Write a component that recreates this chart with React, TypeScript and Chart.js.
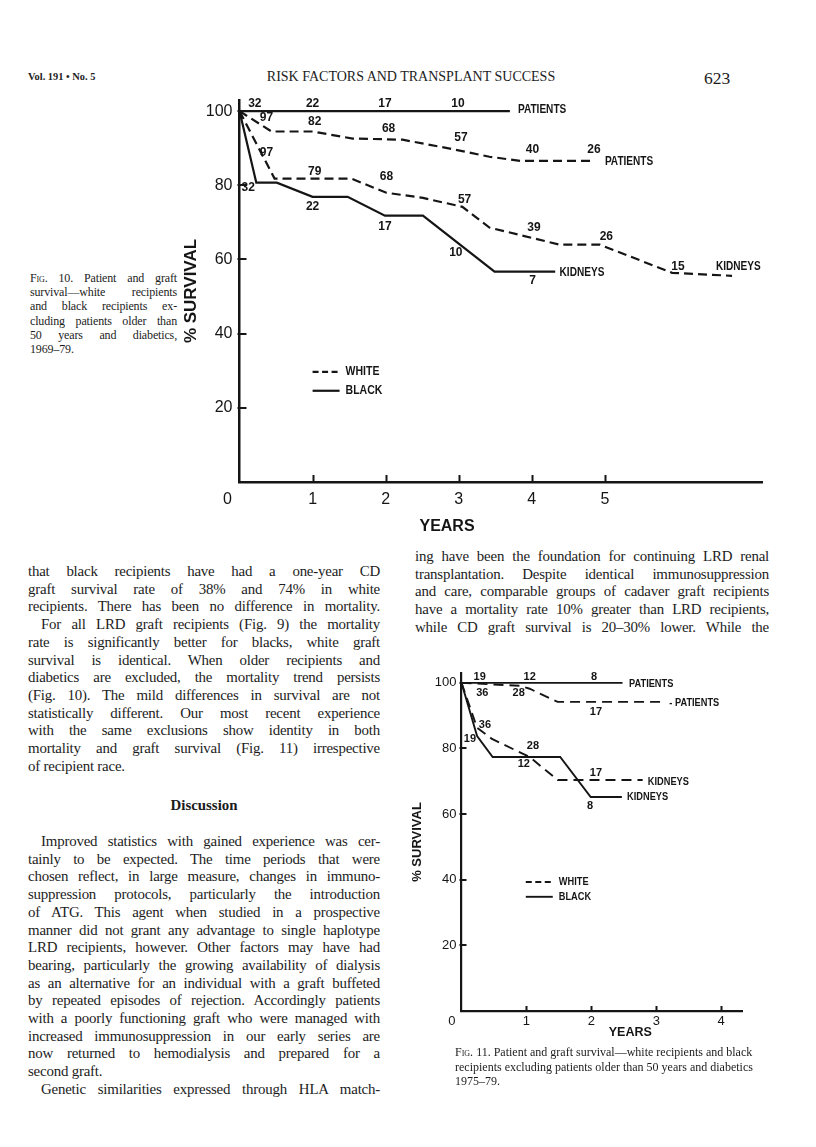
import React, { useEffect, useRef } from "react";
import { Chart, registerables } from "chart.js";

Chart.register(...registerables);

type Pt = [number, number];

const INK = "#151515";
const SANS = "'Liberation Sans', Arial, sans-serif";
const SERIF = "'Liberation Serif', 'Times New Roman', serif";

// ---------------- Fig. 10 (1969–79) ----------------
const fig10XTicks = [0, 1, 2, 3, 4, 5];
const fig10YTicks = [20, 40, 60, 80, 100];
const fig10BlackPatients: Pt[] = [[0, 100], [3.7, 100]];
const fig10WhitePatients: Pt[] = [[0, 100], [0.44, 94.5], [1.0, 94.5], [1.55, 92.6], [2.23, 92.3], [2.88, 89.9], [3.42, 87.7], [3.84, 86.6], [4.86, 86.6]];
const fig10WhiteKidneys: Pt[] = [[0, 100], [0.48, 81.8], [1.53, 81.8], [2.01, 78], [2.51, 76.6], [3.05, 74.2], [3.42, 68.6], [4.38, 64], [4.93, 64], [5.92, 56.4], [6.74, 55.6]];
const fig10BlackKidneys: Pt[] = [[0, 100], [0.23, 80.7], [0.51, 80.7], [1.0, 76.9], [1.48, 76.9], [1.99, 71.8], [2.51, 71.8], [3.49, 56.7], [4.32, 56.7]];

const fig10BlackPatientCounts = [32, 22, 17, 10];
const fig10BlackPatientCountAt: Pt[] = [[0.21, 102], [1.0, 102], [1.99, 102], [2.99, 102]];
const fig10WhitePatientCounts = [97, 82, 68, 57, 40, 26];
const fig10WhitePatientCountAt: Pt[] = [[0.37, 98.2], [1.03, 97.2], [2.04, 95.3], [3.03, 92.8], [4.01, 89.6], [4.85, 89.6]];
const fig10WhiteKidneyCounts = [97, 79, 68, 57, 39, 26, 15];
const fig10WhiteKidneyCountAt: Pt[] = [[0.37, 88.8], [1.03, 83.7], [2.01, 82.3], [3.08, 76.1], [4.03, 68.6], [5.02, 66.1], [6.0, 58]];
const fig10BlackKidneyCounts = [32, 22, 17, 10, 7];
const fig10BlackKidneyCountAt: Pt[] = [[0.12, 79.4], [1.0, 74.2], [1.99, 68.8], [2.96, 61.8], [4.01, 54.3]];

const fig10EndLabels: { text: string; at: Pt }[] = [
  { text: "PATIENTS", at: [3.81, 100.4] },
  { text: "PATIENTS", at: [5.0, 86.4] },
  { text: "KIDNEYS", at: [6.52, 58.0] },
  { text: "KIDNEYS", at: [4.38, 56.4] },
];

// ---------------- Fig. 11 (1975–79) ----------------
const fig11XTicks = [0, 1, 2, 3, 4];
const fig11YTicks = [20, 40, 60, 80, 100];
const fig11BlackPatients: Pt[] = [[0, 100], [2.48, 100]];
const fig11WhitePatients: Pt[] = [[0, 100], [0.9, 99.1], [1.05, 98.2], [1.48, 94.2], [3.13, 94.2]];
const fig11WhiteKidneys: Pt[] = [[0, 100], [0.24, 86.3], [0.47, 82.9], [1.05, 77.4], [1.48, 70.4], [2.79, 70.4]];
const fig11BlackKidneys: Pt[] = [[0, 100], [0.24, 83.8], [0.48, 77.4], [1.52, 77.4], [1.99, 65.2], [2.47, 65.2]];

const fig11BlackPatientCounts = [19, 12, 8];
const fig11BlackPatientCountAt: Pt[] = [[0.28, 101.8], [1.05, 101.8], [2.04, 101.8]];
const fig11WhitePatientCounts = [36, 28, 17];
const fig11WhitePatientCountAt: Pt[] = [[0.32, 97.0], [0.88, 97.0], [2.07, 91.2]];
const fig11WhiteKidneyCounts = [36, 28, 17];
const fig11WhiteKidneyCountAt: Pt[] = [[0.36, 87.2], [1.1, 80.8], [2.07, 72.6]];
const fig11BlackKidneyCounts = [19, 12, 8];
const fig11BlackKidneyCountAt: Pt[] = [[0.13, 82.9], [0.96, 75.3], [1.98, 62.5]];

const fig11EndLabels: { text: string; at: Pt }[] = [
  { text: "PATIENTS", at: [2.58, 99.7] },
  { text: "- PATIENTS", at: [3.2, 93.9] },
  { text: "KIDNEYS", at: [2.87, 69.8] },
  { text: "KIDNEYS", at: [2.55, 65.2] },
];

interface Spec {
  xMax: number;
  yMax: number;
  xTicks: number[];
  yTicks: number[];
  series: { data: Pt[]; dashed: boolean; label: string }[];
  counts: { values: number[]; at: Pt[] }[];
  endLabels: { text: string; at: Pt }[];
  legend: { text: string; dashed: boolean; at: Pt }[];
  xTitleAt: number;
  xTitleDy: number;
  padding: { left: number; top: number; right: number; bottom: number };
  yAxisWidth: number;
  xAxisHeight: number;
  tickSize: number;
  yTitleSize: number;
  yTitlePad: number;
  xTitleSize: number;
  countSize: number;
  labelSize: number;
  legendSize: number;
  lineWidth: number;
  axisWidth: number;
  dash: number[];
  tickLen: number;
  yTickPad: number;
  xTickPad: number;
  legendLen: number;
}

const fig10Spec: Spec = {
  xMax: 7.15,
  yMax: 103,
  xTicks: fig10XTicks,
  yTicks: fig10YTicks,
  series: [
    { data: fig10BlackPatients, dashed: false, label: "Black patients" },
    { data: fig10WhitePatients, dashed: true, label: "White patients" },
    { data: fig10WhiteKidneys, dashed: true, label: "White kidneys" },
    { data: fig10BlackKidneys, dashed: false, label: "Black kidneys" },
  ],
  counts: [
    { values: fig10BlackPatientCounts, at: fig10BlackPatientCountAt },
    { values: fig10WhitePatientCounts, at: fig10WhitePatientCountAt },
    { values: fig10WhiteKidneyCounts, at: fig10WhiteKidneyCountAt },
    { values: fig10BlackKidneyCounts, at: fig10BlackKidneyCountAt },
  ],
  endLabels: fig10EndLabels,
  legend: [
    { text: "WHITE", dashed: true, at: [1.0, 29.7] },
    { text: "BLACK", dashed: false, at: [1.0, 24.6] },
  ],
  xTitleAt: 2.84,
  xTitleDy: 45,
  padding: { left: 0, top: 12, right: 18, bottom: 6 },
  yAxisWidth: 59.5,
  xAxisHeight: 60,
  tickSize: 16,
  yTitleSize: 17,
  yTitlePad: 1,
  xTitleSize: 16,
  countSize: 12,
  labelSize: 12,
  legendSize: 12.5,
  lineWidth: 2.2,
  axisWidth: 2.5,
  dash: [9, 5],
  tickLen: 7,
  yTickPad: 7,
  xTickPad: 8,
  legendLen: 27,
};

const fig11Spec: Spec = {
  xMax: 4.32,
  yMax: 103,
  xTicks: fig11XTicks,
  yTicks: fig11YTicks,
  series: [
    { data: fig11BlackPatients, dashed: false, label: "Black patients" },
    { data: fig11WhitePatients, dashed: true, label: "White patients" },
    { data: fig11WhiteKidneys, dashed: true, label: "White kidneys" },
    { data: fig11BlackKidneys, dashed: false, label: "Black kidneys" },
  ],
  counts: [
    { values: fig11BlackPatientCounts, at: fig11BlackPatientCountAt },
    { values: fig11WhitePatientCounts, at: fig11WhitePatientCountAt },
    { values: fig11WhiteKidneyCounts, at: fig11WhiteKidneyCountAt },
    { values: fig11BlackKidneyCounts, at: fig11BlackKidneyCountAt },
  ],
  endLabels: fig11EndLabels,
  legend: [
    { text: "WHITE", dashed: true, at: [0.99, 39.3] },
    { text: "BLACK", dashed: false, at: [0.99, 34.8] },
  ],
  xTitleAt: 2.6,
  xTitleDy: 22,
  padding: { left: 10, top: 13, right: 18, bottom: 4 },
  yAxisWidth: 51.5,
  xAxisHeight: 36,
  tickSize: 13,
  yTitleSize: 13,
  yTitlePad: 0,
  xTitleSize: 12.5,
  countSize: 11,
  labelSize: 11,
  legendSize: 11,
  lineWidth: 1.9,
  axisWidth: 2.2,
  dash: [10, 6],
  tickLen: 5,
  yTickPad: 5,
  xTickPad: 3,
  legendLen: 27,
};

const NARROW_SCALE = 0.84;

function narrowText(ctx: CanvasRenderingContext2D, text: string, x: number, y: number) {
  ctx.save();
  ctx.translate(x, y);
  ctx.scale(NARROW_SCALE, 1);
  ctx.fillText(text, 0, 0);
  ctx.restore();
}

function decorPlugin(spec: Spec) {
  return {
    id: "decor",
    afterDraw(chart: any) {
      const { ctx, chartArea } = chart;
      const xs = chart.scales.x;
      const ys = chart.scales.y;
      ctx.save();
      ctx.strokeStyle = INK;
      ctx.fillStyle = INK;
      // inward tick marks
      ctx.lineWidth = 2;
      ctx.setLineDash([]);
      ctx.beginPath();
      for (const v of spec.xTicks) {
        if (v === 0) continue;
        const px = Math.round(xs.getPixelForValue(v)) + 0.5;
        ctx.moveTo(px, chartArea.bottom);
        ctx.lineTo(px, chartArea.bottom - spec.tickLen);
      }
      for (const v of spec.yTicks) {
        const py = Math.round(ys.getPixelForValue(v));
        ctx.moveTo(chartArea.left - 2, py);
        ctx.lineTo(chartArea.left + spec.tickLen, py);
      }
      ctx.stroke();

      // at-risk counts
      ctx.textAlign = "center";
      ctx.textBaseline = "middle";
      ctx.font = `bold ${spec.countSize}px ${SANS}`;
      for (const group of spec.counts) {
        group.values.forEach((val, i) => {
          const [tx, ty] = group.at[i];
          ctx.fillText(String(val), xs.getPixelForValue(tx), ys.getPixelForValue(ty));
        });
      }

      // curve labels
      ctx.textAlign = "left";
      ctx.font = `bold ${spec.labelSize}px ${SANS}`;
      for (const lab of spec.endLabels) {
        narrowText(ctx, lab.text, xs.getPixelForValue(lab.at[0]), ys.getPixelForValue(lab.at[1]));
      }

      // legend
      ctx.font = `bold ${spec.legendSize}px ${SANS}`;
      for (const item of spec.legend) {
        const px = xs.getPixelForValue(item.at[0]);
        const py = ys.getPixelForValue(item.at[1]);
        ctx.lineWidth = spec.lineWidth;
        ctx.setLineDash(item.dashed ? [6, 3.5] : []);
        ctx.beginPath();
        ctx.moveTo(px, py);
        ctx.lineTo(px + spec.legendLen, py);
        ctx.stroke();
        ctx.setLineDash([]);
        narrowText(ctx, item.text, px + spec.legendLen + 6, py);
      }

      // x-axis title
      ctx.textAlign = "center";
      ctx.font = `bold ${spec.xTitleSize}px ${SANS}`;
      ctx.fillText("YEARS", xs.getPixelForValue(spec.xTitleAt), chartArea.bottom + spec.xTitleDy);
      ctx.restore();
    },
  };
}

function buildConfig(spec: Spec): any {
  return {
    type: "line",
    data: {
      datasets: spec.series.map((s) => ({
        label: s.label,
        data: s.data.map(([x, y]) => ({ x, y })),
        borderColor: INK,
        backgroundColor: INK,
        borderWidth: spec.lineWidth,
        borderDash: s.dashed ? spec.dash : [],
        pointRadius: 0,
        fill: false,
        tension: 0,
      })),
    },
    options: {
      animation: false,
      responsive: false,
      maintainAspectRatio: false,
      devicePixelRatio: 1,
      layout: { padding: spec.padding },
      plugins: { legend: { display: false }, tooltip: { enabled: false }, title: { display: false } },
      scales: {
        x: {
          type: "linear",
          min: 0,
          max: spec.xMax,
          afterBuildTicks: (s: any) => {
            s.ticks = spec.xTicks.map((v) => ({ value: v }));
          },
          afterFit: (s: any) => {
            s.height = spec.xAxisHeight;
            s.paddingLeft = 0;
            s.paddingRight = 0;
          },
          grid: { display: true, drawOnChartArea: false, drawTicks: false },
          border: { display: true, color: INK, width: spec.axisWidth },
          ticks: {
            color: INK,
            padding: spec.xTickPad,
            maxRotation: 0,
            autoSkip: false,
            font: { family: SANS, size: spec.tickSize },
            callback: (v: number) => (v === 0 ? "0\u2003\u2002" : String(v)),
          },
        },
        y: {
          type: "linear",
          min: 0,
          max: spec.yMax,
          afterBuildTicks: (s: any) => {
            s.ticks = spec.yTicks.map((v) => ({ value: v }));
          },
          afterFit: (s: any) => {
            s.width = spec.yAxisWidth;
            s.paddingTop = 0;
            s.paddingBottom = 0;
          },
          grid: { display: true, drawOnChartArea: false, drawTicks: false },
          border: { display: true, color: INK, width: spec.axisWidth },
          ticks: {
            color: INK,
            padding: spec.yTickPad,
            autoSkip: false,
            font: { family: SANS, size: spec.tickSize },
          },
          title: {
            display: true,
            text: "% SURVIVAL",
            color: INK,
            font: { family: SANS, size: spec.yTitleSize, weight: "bold" },
            padding: { top: spec.yTitlePad, bottom: 0 },
          },
        },
      },
    },
    plugins: [decorPlugin(spec)],
  };
}

function SurvivalChart(props: { spec: Spec; left: number; top: number; width: number; height: number }) {
  const ref = useRef<HTMLCanvasElement>(null);
  useEffect(() => {
    if (!ref.current) return;
    const chart = new Chart(ref.current, buildConfig(props.spec));
    return () => chart.destroy();
  }, []);
  return (
    <canvas
      ref={ref}
      width={props.width}
      height={props.height}
      style={{ position: "absolute", left: props.left, top: props.top, width: props.width, height: props.height }}
    />
  );
}

// ---------------- page text ----------------
type TLine = { t: string; indent?: boolean; last?: boolean };

const leftColumnA: TLine[] = [
  { t: "that black recipients have had a one-year CD" },
  { t: "graft survival rate of 38% and 74% in white" },
  { t: "recipients. There has been no difference in mortality." },
  { t: "For all LRD graft recipients (Fig. 9) the mortality", indent: true },
  { t: "rate is significantly better for blacks, white graft" },
  { t: "survival is identical. When older recipients and" },
  { t: "diabetics are excluded, the mortality trend persists" },
  { t: "(Fig. 10). The mild differences in survival are not" },
  { t: "statistically different. Our most recent experience" },
  { t: "with the same exclusions show identity in both" },
  { t: "mortality and graft survival (Fig. 11) irrespective" },
  { t: "of recipient race.", last: true },
];

const leftColumnB: TLine[] = [
  { t: "Improved statistics with gained experience was cer-", indent: true },
  { t: "tainly to be expected. The time periods that were" },
  { t: "chosen reflect, in large measure, changes in immuno-" },
  { t: "suppression protocols, particularly the introduction" },
  { t: "of ATG. This agent when studied in a prospective" },
  { t: "manner did not grant any advantage to single haplotype" },
  { t: "LRD recipients, however. Other factors may have had" },
  { t: "bearing, particularly the growing availability of dialysis" },
  { t: "as an alternative for an individual with a graft buffeted" },
  { t: "by repeated episodes of rejection. Accordingly patients" },
  { t: "with a poorly functioning graft who were managed with" },
  { t: "increased immunosuppression in our early series are" },
  { t: "now returned to hemodialysis and prepared for a" },
  { t: "second graft.", last: true },
  { t: "Genetic similarities expressed through HLA match-", indent: true },
];

const rightColumn: TLine[] = [
  { t: "ing have been the foundation for continuing LRD renal" },
  { t: "transplantation. Despite identical immunosuppression" },
  { t: "and care, comparable groups of cadaver graft recipients" },
  { t: "have a mortality rate 10% greater than LRD recipients," },
  { t: "while CD graft survival is 20\u201330% lower. While the" },
];

const BODY_SIZE = 14.9;
const BODY_LH = 17.7;
const BODY_LS = -0.2;

function TextBlock(props: { lines: TLine[]; left: number; top: number; width: number }) {
  return (
    <div
      style={{
        position: "absolute",
        left: props.left,
        top: props.top,
        width: props.width,
        fontFamily: SERIF,
        fontSize: BODY_SIZE,
        letterSpacing: BODY_LS,
        lineHeight: `${BODY_LH}px`,
        color: "#1c1c1c",
      }}
    >
      {props.lines.map((l, i) => (
        <div
          key={i}
          style={{
            textAlign: l.last ? "left" : "justify",
            textAlignLast: l.last ? "left" : "justify",
            paddingLeft: l.indent ? 13 : 0,
            whiteSpace: "nowrap",
          }}
        >
          {l.t}
        </div>
      ))}
    </div>
  );
}

function Caption(props: { lines: React.ReactNode[]; left: number; top: number; width: number; size: number; lh: number; ls?: number }) {
  return (
    <div
      style={{
        position: "absolute",
        left: props.left,
        top: props.top,
        width: props.width,
        fontFamily: SERIF,
        fontSize: props.size,
        letterSpacing: props.ls || 0,
        lineHeight: `${props.lh}px`,
        color: "#1c1c1c",
      }}
    >
      {props.lines.map((l, i) => (
        <div
          key={i}
          style={{
            textAlign: i === props.lines.length - 1 ? "left" : "justify",
            textAlignLast: i === props.lines.length - 1 ? "left" : "justify",
            whiteSpace: "nowrap",
          }}
        >
          {l}
        </div>
      ))}
    </div>
  );
}

const figWord = <span style={{ fontVariant: "small-caps" }}>Fig.</span>;

export default function App() {
  return (
    <div style={{ position: "absolute", left: 0, top: 0, width: 816, height: 1147, background: "#fff", overflow: "hidden" }}>
      {/* running head */}
      <div style={{ position: "absolute", left: 28, top: 70, fontFamily: SERIF, fontSize: 10.4, fontWeight: "bold", lineHeight: "13px", color: "#222" }}>
        Vol. 191 • No. 5
      </div>
      <div style={{ position: "absolute", left: 211, top: 68, width: 400, textAlign: "center", fontFamily: SERIF, fontSize: 14, lineHeight: "18px", color: "#1c1c1c" }}>
        RISK FACTORS AND TRANSPLANT SUCCESS
      </div>
      <div style={{ position: "absolute", left: 704, top: 67, fontFamily: SERIF, fontSize: 17.5, lineHeight: "22px", color: "#1c1c1c" }}>
        623
      </div>

      <SurvivalChart spec={fig10Spec} left={180} top={88} width={600} height={460} />

      <Caption
        left={30}
        top={271}
        width={147}
        size={12}
        lh={14.2}
        ls={-0.15}
        lines={[
          <>{figWord} 10. Patient and graft</>,
          <>survival—white recipients</>,
          <>and black recipients ex-</>,
          <>cluding patients older than</>,
          <>50 years and diabetics,</>,
          <>1969–79.</>,
        ]}
      />

      <TextBlock lines={leftColumnA} left={28} top={563} width={352} />
      <div style={{ position: "absolute", left: 28, top: 797, width: 352, textAlign: "center", fontFamily: SERIF, fontSize: BODY_SIZE, fontWeight: "bold", lineHeight: `${BODY_LH}px`, color: "#1c1c1c" }}>
        Discussion
      </div>
      <TextBlock lines={leftColumnB} left={28} top={833} width={352} />
      <TextBlock lines={rightColumn} left={415} top={548} width={354} />

      <SurvivalChart spec={fig11Spec} left={400} top={660} width={360} height={391} />

      <Caption
        left={455}
        top={1045}
        width={297}
        size={12}
        lh={14.5}
        lines={[
          <>{figWord} 11. Patient and graft survival—white recipients and black</>,
          <>recipients excluding patients older than 50 years and diabetics</>,
          <>1975–79.</>,
        ]}
      />
    </div>
  );
}
